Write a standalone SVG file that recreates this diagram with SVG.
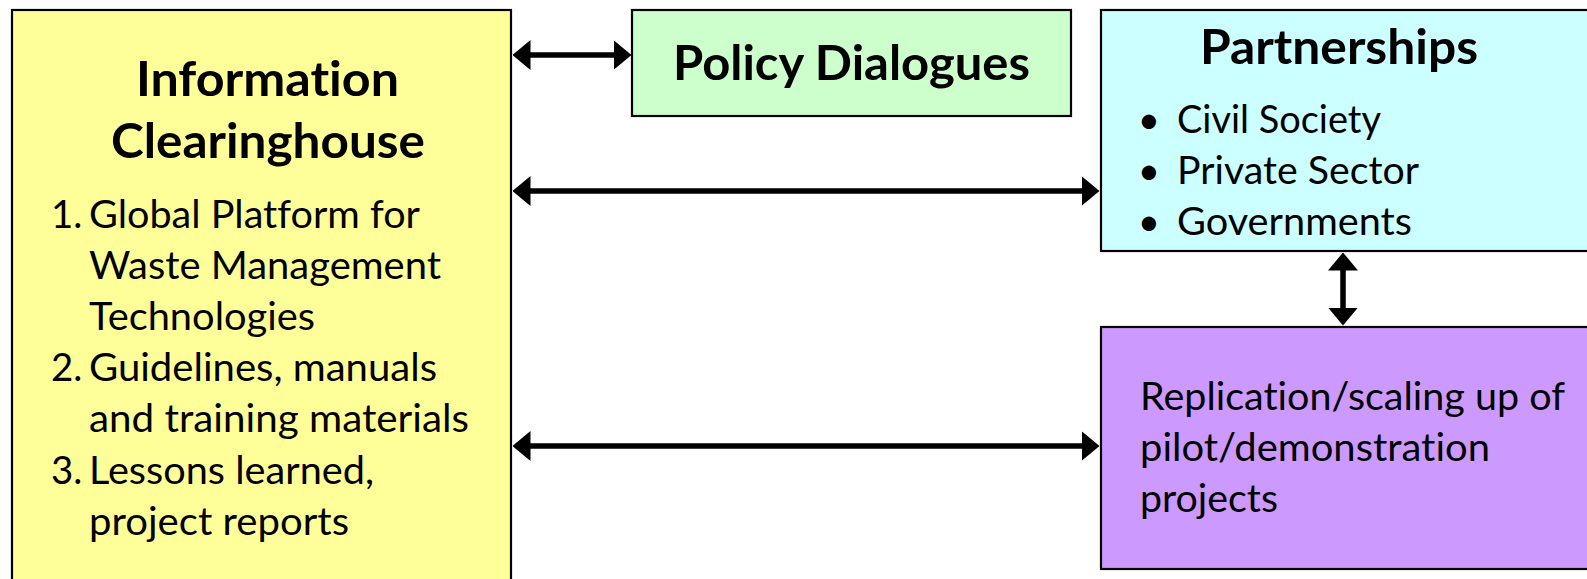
<svg xmlns="http://www.w3.org/2000/svg" width="1587" height="579" viewBox="0 0 1587 579">
<style>
.box{stroke:#000;stroke-width:2.2}
.h{font-family:Lato,"Liberation Sans",sans-serif;font-weight:bold;font-size:48px;fill:#000;font-variant-ligatures:none}
.t{font-family:Lato,"Liberation Sans",sans-serif;font-size:38.4px;fill:#000;font-variant-ligatures:none}
.conn{stroke:#000;stroke-width:5.5;fill:none;marker-start:url(#ah);marker-end:url(#ah)}
</style>
<defs>
<marker id="ah" viewBox="0 -15 18 30" refX="0.5" refY="0" markerWidth="18" markerHeight="30" markerUnits="userSpaceOnUse" orient="auto-start-reverse">
<path d="M0,-15 L18,0 L0,15 Z" fill="#000"/>
</marker>
</defs>
<rect width="1587" height="579" fill="#fff"/>
<g id="info">
<rect class="box" x="12" y="10" width="499" height="600" fill="#FFFF99"/>
<text class="h" x="136" y="96" textLength="263" lengthAdjust="spacingAndGlyphs">Information</text>
<text class="h" x="111" y="158" textLength="314" lengthAdjust="spacingAndGlyphs">Clearinghouse</text>
<text class="t" x="51" y="228">1.</text>
<text class="t" x="89" y="228" textLength="331" lengthAdjust="spacingAndGlyphs">Global Platform for</text>
<text class="t" x="89" y="279" textLength="352" lengthAdjust="spacingAndGlyphs">Waste Management</text>
<text class="t" x="89" y="330" textLength="226" lengthAdjust="spacingAndGlyphs">Technologies</text>
<text class="t" x="51" y="381">2.</text>
<text class="t" x="89" y="381" textLength="348" lengthAdjust="spacingAndGlyphs">Guidelines, manuals</text>
<text class="t" x="89" y="432" textLength="380" lengthAdjust="spacingAndGlyphs">and training materials</text>
<text class="t" x="51" y="484">3.</text>
<text class="t" x="89" y="484" textLength="285" lengthAdjust="spacingAndGlyphs">Lessons learned,</text>
<text class="t" x="89" y="535" textLength="260" lengthAdjust="spacingAndGlyphs">project reports</text>
</g>
<g id="policy">
<rect class="box" x="632" y="10" width="439" height="106" fill="#CCFFCC"/>
<text class="h" x="673" y="80" textLength="357" lengthAdjust="spacingAndGlyphs">Policy Dialogues</text>
</g>
<g id="partnerships">
<rect class="box" x="1101" y="10" width="500" height="241" fill="#CCFFFF"/>
<text class="h" x="1200" y="64" textLength="278" lengthAdjust="spacingAndGlyphs">Partnerships</text>
<text class="t" x="1149" y="133" text-anchor="middle">•</text>
<text class="t" x="1177" y="133" textLength="204" lengthAdjust="spacingAndGlyphs">Civil Society</text>
<text class="t" x="1149" y="184" text-anchor="middle">•</text>
<text class="t" x="1177" y="184" textLength="242" lengthAdjust="spacingAndGlyphs">Private Sector</text>
<text class="t" x="1149" y="235" text-anchor="middle">•</text>
<text class="t" x="1177" y="235" textLength="235" lengthAdjust="spacingAndGlyphs">Governments</text>
</g>
<g id="replication">
<rect class="box" x="1101" y="327" width="500" height="242" fill="#CC99FF"/>
<text class="t" x="1140" y="410" textLength="425" lengthAdjust="spacingAndGlyphs">Replication/scaling up of</text>
<text class="t" x="1140" y="461" textLength="350" lengthAdjust="spacingAndGlyphs">pilot/demonstration</text>
<text class="t" x="1140" y="512" textLength="138" lengthAdjust="spacingAndGlyphs">projects</text>
</g>
<g id="connectors">
<path class="conn" d="M530,55 H614"/>
<path class="conn" d="M530,191 H1082"/>
<path class="conn" d="M530,446 H1082"/>
<path class="conn" d="M1343,270 V308"/>
</g>
</svg>
